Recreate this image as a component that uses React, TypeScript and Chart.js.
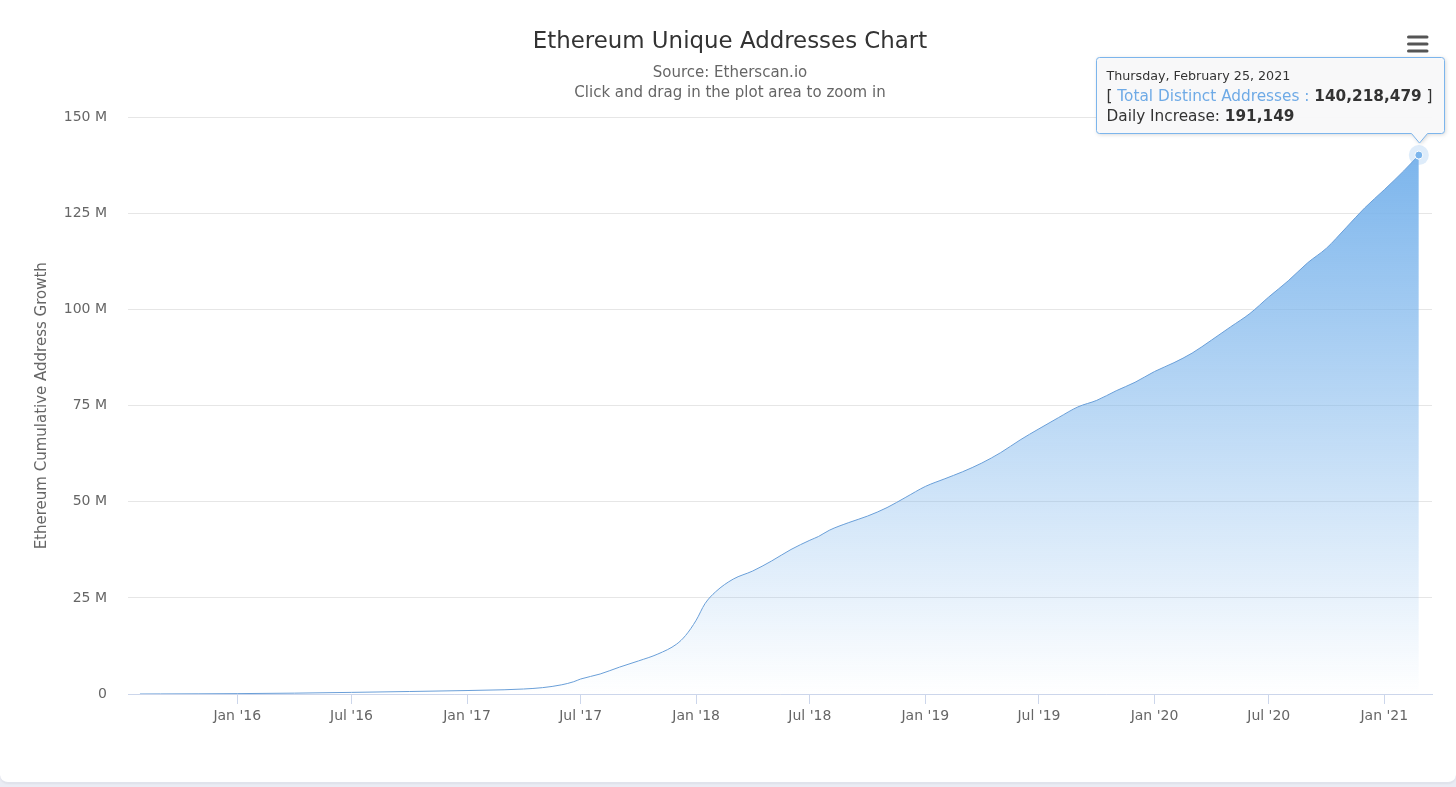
import React, { useEffect, useRef } from "react";
import { Chart, registerables } from "chart.js";

Chart.register(...registerables);

const FONT = '"DejaVu Sans", "Noto Sans", sans-serif';

// Dates of the sampled points and cumulative unique addresses (millions)
const dates = [
  "2015-07-30", "2015-09-01", "2015-11-01", "2016-01-01", "2016-04-01", "2016-07-01",
  "2016-10-01", "2017-01-01", "2017-03-01", "2017-04-01", "2017-05-01", "2017-06-01",
  "2017-06-20", "2017-07-01", "2017-08-01", "2017-09-01", "2017-10-01", "2017-11-01",
  "2017-12-01", "2017-12-15", "2018-01-01", "2018-01-15", "2018-02-01", "2018-03-01",
  "2018-04-01", "2018-05-01", "2018-06-01", "2018-07-01", "2018-07-15", "2018-08-01",
  "2018-09-01", "2018-10-01", "2018-11-01", "2018-12-01", "2019-01-01", "2019-02-01",
  "2019-03-01", "2019-04-01", "2019-05-01", "2019-06-01", "2019-07-01", "2019-08-01",
  "2019-09-01", "2019-10-01", "2019-11-01", "2019-12-01", "2020-01-01", "2020-02-01",
  "2020-03-01", "2020-04-01", "2020-05-01", "2020-06-01", "2020-07-01", "2020-08-01",
  "2020-09-01", "2020-10-01", "2020-11-01", "2020-12-01", "2021-01-01", "2021-02-01",
  "2021-02-25",
];
const addressesM = [
  0.0, 0.02, 0.05, 0.1, 0.22, 0.42,
  0.65, 0.9, 1.1, 1.3, 1.65, 2.4,
  3.2, 3.9, 5.2, 7.0, 8.6, 10.4,
  13.0, 15.2, 19.2, 23.5, 26.6, 29.9,
  32.0, 34.6, 37.6, 40.0, 41.0, 42.6,
  44.6, 46.3, 48.5, 51.2, 54.0, 56.0,
  57.8, 60.1, 62.8, 66.1, 69.0, 71.9,
  74.7, 76.4, 78.9, 81.1, 83.9, 86.2,
  88.7, 92.1, 95.5, 99.0, 103.3, 107.5,
  112.2, 116.0, 121.3, 126.5, 131.2, 136.1,
  140.218479,
];

const xTickDates = [
  "2016-01-01", "2016-07-01", "2017-01-01", "2017-07-01", "2018-01-01", "2018-07-01",
  "2019-01-01", "2019-07-01", "2020-01-01", "2020-07-01", "2021-01-01",
];
const xTickLabels = [
  "Jan '16", "Jul '16", "Jan '17", "Jul '17", "Jan '18", "Jul '18",
  "Jan '19", "Jul '19", "Jan '20", "Jul '20", "Jan '21",
];
const yTickValues = [0, 25e6, 50e6, 75e6, 100e6, 125e6, 150e6];
const yTickLabels = ["0", "25 M", "50 M", "75 M", "100 M", "125 M", "150 M"];

const xRange = ["2015-07-11", "2021-03-18"];

const tooltipHeader = "Thursday, February 25, 2021";
const tooltipSeriesName = "Total Distinct Addresses :";
const tooltipValue = "140,218,479";
const tooltipDailyLabel = "Daily Increase: ";
const tooltipDailyValue = "191,149";

const SERIES_COLOR = "#7cb5ec";

const overlayPlugin = {
  id: "overlay",
  afterDatasetsDraw(chart: any) {
    const meta = chart.getDatasetMeta(0);
    const pt = meta.data[meta.data.length - 1];
    if (!pt) return;
    const ctx = chart.ctx;
    ctx.save();
    ctx.beginPath();
    ctx.arc(pt.x, pt.y, 10, 0, Math.PI * 2);
    ctx.fillStyle = "rgba(124,181,236,0.25)";
    ctx.fill();
    ctx.restore();
    pt.draw(ctx, chart.chartArea);
  },
  afterDraw(chart: any) {
    const ctx = chart.ctx;
    const meta = chart.getDatasetMeta(0);
    const pt = meta.data[meta.data.length - 1];
    // menu icon
    ctx.save();
    ctx.strokeStyle = "#555";
    ctx.lineWidth = 3;
    ctx.lineCap = "round";
    [37, 44, 51].forEach((yy) => {
      ctx.beginPath();
      ctx.moveTo(1408.5, yy);
      ctx.lineTo(1427, yy);
      ctx.stroke();
    });
    ctx.restore();
    if (!pt) return;

    const fHead = `12.7px ${FONT}`;
    const fBody = `15.3px ${FONT}`;
    const fBold = `bold 15.3px ${FONT}`;
    ctx.save();
    ctx.font = fHead;
    const wHead = ctx.measureText(tooltipHeader).width;
    ctx.font = fBody;
    const wA = ctx.measureText("[ ").width;
    const wB = ctx.measureText(tooltipSeriesName + " ").width;
    const wD = ctx.measureText(" ]").width;
    const wE = ctx.measureText(tooltipDailyLabel).width;
    ctx.font = fBold;
    const wC = ctx.measureText(tooltipValue).width;
    const wF = ctx.measureText(tooltipDailyValue).width;
    const contentW = Math.max(wHead, wA + wB + wC + wD, wE + wF);
    const padL = 10;
    const padR = 12;
    const boxW = Math.round(contentW + padL + padR);
    const boxH = 76;
    const right = Math.round(pt.x + 25) + 0.5;
    const left = right - boxW;
    const bottom = Math.round(pt.y - 22) + 0.5;
    const top = bottom - boxH;
    const r = 3;
    const ax = Math.round(pt.x) + 0.5;
    const tipY = pt.y - 12;

    const path = () => {
      ctx.beginPath();
      ctx.moveTo(left + r, top);
      ctx.lineTo(right - r, top);
      ctx.arcTo(right, top, right, top + r, r);
      ctx.lineTo(right, bottom - r);
      ctx.arcTo(right, bottom, right - r, bottom, r);
      ctx.lineTo(ax + 8, bottom);
      ctx.lineTo(ax, tipY);
      ctx.lineTo(ax - 8, bottom);
      ctx.lineTo(left + r, bottom);
      ctx.arcTo(left, bottom, left, bottom - r, r);
      ctx.lineTo(left, top + r);
      ctx.arcTo(left, top, left + r, top, r);
      ctx.closePath();
    };
    ctx.shadowColor = "rgba(0,0,0,0.18)";
    ctx.shadowOffsetX = 1;
    ctx.shadowOffsetY = 1;
    ctx.shadowBlur = 4;
    path();
    ctx.fillStyle = "rgba(249,249,250,0.96)";
    ctx.fill();
    ctx.shadowColor = "transparent";
    ctx.lineWidth = 1;
    ctx.strokeStyle = SERIES_COLOR;
    path();
    ctx.stroke();

    ctx.textBaseline = "middle";
    ctx.textAlign = "left";
    const tx = left + padL;
    ctx.fillStyle = "#333";
    ctx.font = fHead;
    ctx.fillText(tooltipHeader, tx, top + 19.5);
    let x = tx;
    const y2 = top + 40;
    ctx.font = fBody;
    ctx.fillText("[ ", x, y2);
    x += wA;
    ctx.fillStyle = "#6eaae6";
    ctx.fillText(tooltipSeriesName + " ", x, y2);
    x += wB;
    ctx.fillStyle = "#333";
    ctx.font = fBold;
    ctx.fillText(tooltipValue, x, y2);
    x += wC;
    ctx.font = fBody;
    ctx.fillText(" ]", x, y2);
    const y3 = top + 60;
    ctx.fillText(tooltipDailyLabel, tx, y3);
    ctx.font = fBold;
    ctx.fillText(tooltipDailyValue, tx + wE, y3);
    ctx.restore();
  },
};

export default function App() {
  const ref = useRef<HTMLCanvasElement | null>(null);
  useEffect(() => {
    document.body.style.margin = "0";
    const canvas = ref.current;
    if (!canvas) return;
    const data = dates.map((d, i) => ({ x: Date.parse(d), y: addressesM[i] * 1e6 }));
    const lastIndex = data.length - 1;
    const maxVal = Math.max(...data.map((p) => p.y));
    const chart = new Chart(canvas, {
      type: "line",
      data: {
        datasets: [
          {
            label: "Total Distinct Addresses",
            data,
            borderColor: "#6a9fd8",
            borderWidth: 1,
            fill: "origin",
            cubicInterpolationMode: "monotone",
            pointRadius: (c: any) => (c.dataIndex === lastIndex ? 4 : 0),
            pointBackgroundColor: SERIES_COLOR,
            pointBorderColor: "#ffffff",
            pointBorderWidth: 1,
            backgroundColor: (c: any) => {
              const ch = c.chart;
              const area = ch.chartArea;
              if (!area) return "rgba(124,181,236,0.5)";
              const topY = ch.scales.y.getPixelForValue(maxVal);
              const g = ch.ctx.createLinearGradient(0, topY, 0, area.bottom);
              g.addColorStop(0, "rgba(124,181,236,1)");
              g.addColorStop(1, "rgba(124,181,236,0)");
              return g;
            },
          } as any,
        ],
      },
      options: {
        animation: false,
        responsive: false,
        devicePixelRatio: 1,
        events: [],
        layout: { padding: { left: 28, right: 24, top: 0, bottom: 48 } },
        plugins: {
          legend: { display: false },
          tooltip: { enabled: false },
          title: {
            display: true,
            text: "Ethereum Unique Addresses Chart",
            color: "#333333",
            font: { family: FONT, size: 22.9, weight: "normal" as any, lineHeight: 1.2 },
            padding: { top: 28.5, bottom: 0 },
          },
          subtitle: {
            display: true,
            text: ["Source: Etherscan.io", "Click and drag in the plot area to zoom in"],
            color: "#666666",
            font: { family: FONT, size: 15, lineHeight: 20 / 15 },
            padding: { top: 7.5, bottom: 14 },
          },
        },
        scales: {
          x: {
            type: "linear",
            min: Date.parse(xRange[0]),
            max: Date.parse(xRange[1]),
            afterBuildTicks: (scale: any) => {
              scale.ticks = xTickDates.map((d) => ({ value: Date.parse(d) }));
            },
            afterFit: (scale: any) => {
              scale.height = 40;
            },
            ticks: {
              autoSkip: false,
              maxRotation: 0,
              padding: 4,
              color: "#666666",
              font: { family: FONT, size: 14 },
              callback: (_v: any, i: number) => xTickLabels[i],
            },
            grid: {
              display: true,
              drawOnChartArea: false,
              drawTicks: true,
              tickLength: 10,
              color: "#ccd6eb",
            },
            border: { display: true, color: "#ccd6eb", width: 1 },
          },
          y: {
            type: "linear",
            min: 0,
            max: 150e6,
            afterBuildTicks: (scale: any) => {
              scale.ticks = yTickValues.map((v) => ({ value: v }));
            },
            afterFit: (scale: any) => {
              scale.width = 100;
            },
            ticks: {
              padding: 21,
              color: "#666666",
              font: { family: FONT, size: 14 },
              callback: (_v: any, i: number) => yTickLabels[i],
            },
            grid: { color: "#e6e6e6", drawTicks: false, lineWidth: 1 },
            border: { display: false },
            title: {
              display: true,
              text: "Ethereum Cumulative Address Growth",
              color: "#666666",
              font: { family: FONT, size: 15, lineHeight: 1.2 },
              padding: { top: 5.5, bottom: 0 },
            },
          },
        },
      },
      plugins: [overlayPlugin],
    } as any);
    return () => chart.destroy();
  }, []);

  return (
    <div
      style={{
        width: 1456,
        height: 787,
        background: "#eaecf4",
        position: "relative",
        overflow: "hidden",
      }}
    >
      <div
        style={{
          position: "absolute",
          left: 0,
          top: 0,
          width: 1456,
          height: 782,
          background: "#ffffff",
          borderRadius: "0 0 8px 8px",
          borderBottom: "1px solid #e0e3ec",
          boxShadow: "0 1px 2px rgba(0,0,0,0.05)",
        }}
      >
        <canvas ref={ref} width={1456} height={782} style={{ display: "block" }} />
      </div>
    </div>
  );
}
